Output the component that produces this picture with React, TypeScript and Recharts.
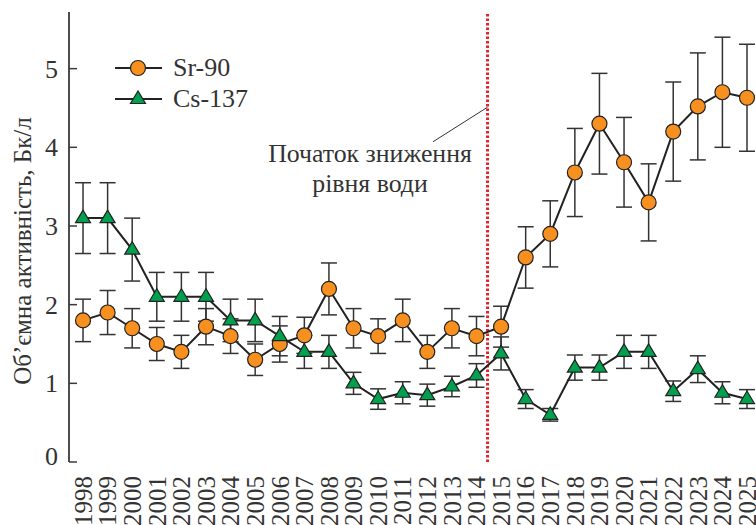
import React from 'react';
import {
  LineChart,
  Line,
  XAxis,
  YAxis,
  ErrorBar,
  ReferenceLine,
  ReferenceDot,
  Legend,
} from 'recharts';

const years = [
  1998, 1999, 2000, 2001, 2002, 2003, 2004, 2005, 2006, 2007, 2008, 2009, 2010, 2011,
  2012, 2013, 2014, 2015, 2016, 2017, 2018, 2019, 2020, 2021, 2022, 2023, 2024, 2025,
];
const sr90 = [
  1.8, 1.9, 1.7, 1.5, 1.4, 1.72, 1.6, 1.3, 1.5, 1.61, 2.2, 1.7, 1.6, 1.8, 1.4, 1.7, 1.6,
  1.72, 2.6, 2.9, 3.68, 4.3, 3.81, 3.3, 4.2, 4.52, 4.7, 4.63,
];
const sr90Err = [
  0.27, 0.28, 0.25, 0.21, 0.21, 0.23, 0.22, 0.2, 0.23, 0.23, 0.33, 0.25, 0.22, 0.27, 0.21,
  0.25, 0.25, 0.26, 0.39, 0.42, 0.56, 0.64, 0.57, 0.49, 0.63, 0.68, 0.7, 0.68,
];
const cs137 = [
  3.1, 3.1, 2.7, 2.1, 2.1, 2.1, 1.8, 1.8, 1.6, 1.4, 1.4, 1.0, 0.8, 0.88, 0.85, 0.96, 1.1,
  1.38, 0.8, 0.6, 1.2, 1.2, 1.4, 1.4, 0.9, 1.18, 0.88, 0.8,
];
const cs137Err = [
  0.45, 0.45, 0.4, 0.31, 0.31, 0.31, 0.27, 0.27, 0.25, 0.21, 0.21, 0.14, 0.13, 0.14, 0.14,
  0.13, 0.15, 0.21, 0.12, 0.08, 0.16, 0.16, 0.21, 0.21, 0.13, 0.17, 0.14, 0.12,
];
const yTicks = [0, 1, 2, 3, 4, 5];
const waterDropYear = 2014.45;
const annotationLines = ['Початок зниження', 'рівня води'];
const yLabel = 'Об’ємна активність, Бк/л';
const seriesNames = ['Sr-90', 'Cs-137'];

const data = years.map((year, i) => ({
  year,
  sr: sr90[i],
  srErr: sr90Err[i],
  cs: cs137[i],
  csErr: cs137Err[i],
}));
const boundaryTicks = years.slice(0, -1).map((y) => y + 0.45);

const FONT = "'Liberation Serif', serif";
const TEXT = '#333';
const AXIS = '#3a3a3a';
const ORANGE = '#F7901E';
const GREEN = '#00A04F';
const LINE = '#222';

const Triangle = (props: any) => {
  const { cx, cy, key } = props;
  if (cx == null || cy == null) return null;
  const pts = `${cx},${cy - 8} ${cx - 7.5},${cy + 4.5} ${cx + 7.5},${cy + 4.5}`;
  return <polygon key={key} points={pts} fill={GREEN} stroke="#222" strokeWidth={1.2} />;
};

const YTick = (props: any) => {
  const { x, y, payload } = props;
  const shift = payload.value === 0 ? -6 : 0;
  return (
    <text x={x} y={y + shift} dy="0.35em" textAnchor="end" fill={TEXT} style={{ fontFamily: FONT, fontSize: 26 }}>
      {payload.value}
    </text>
  );
};

const XTick = (props: any) => {
  const { x, y, payload } = props;
  return (
    <text
      x={x}
      y={y}
      dy="0.35em"
      textAnchor="end"
      transform={`rotate(-90, ${x}, ${y})`}
      fill={TEXT}
      style={{ fontFamily: FONT, fontSize: 25 }}
    >
      {payload.value}
    </text>
  );
};

const LegendContent = () => (
  <div style={{ fontFamily: FONT, fontSize: 26, color: TEXT }}>
    {seriesNames.map((name, i) => (
      <div key={name} style={{ display: 'flex', alignItems: 'center', height: 31 }}>
        <svg width={50} height={20} style={{ display: 'block' }}>
          <line x1={1} y1={10} x2={48} y2={10} stroke={LINE} strokeWidth={2} />
          {i === 0 ? (
            <circle cx={24} cy={10} r={7.5} fill={ORANGE} stroke="#222" strokeWidth={1.2} />
          ) : (
            <polygon points="24,2 16.5,14.5 31.5,14.5" fill={GREEN} stroke="#222" strokeWidth={1.2} />
          )}
        </svg>
        <span style={{ marginLeft: 9, lineHeight: '31px' }}>{name}</span>
      </div>
    ))}
  </div>
);

const AnnotationLabel = (props: any) => {
  const vb = props.viewBox || {};
  const cx = (vb.x ?? 0) + (vb.width ?? 0) / 2;
  const cy = (vb.y ?? 0) + (vb.height ?? 0) / 2;
  return (
    <text x={cx} y={cy} textAnchor="middle" fill={TEXT} style={{ fontFamily: FONT, fontSize: 25.8 }}>
      {annotationLines.map((t, i) => (
        <tspan key={t} x={cx} dy={i === 0 ? 0 : 30}>
          {t}
        </tspan>
      ))}
    </text>
  );
};

const YAxisLabel = (props: any) => {
  const vb = props.viewBox || {};
  const x = (vb.x ?? 0) + 22;
  const y = 251;
  return (
    <text
      x={x}
      y={y}
      dy="0.35em"
      textAnchor="middle"
      transform={`rotate(-90, ${x}, ${y})`}
      fill={TEXT}
      style={{ fontFamily: FONT, fontSize: 25 }}
    >
      {yLabel}
    </text>
  );
};

export default function App() {
  const xDomain: [number, number] = [1997.43, 2025.61];
  return (
    <div
      style={{
        position: 'fixed',
        left: 0,
        top: 0,
        width: 756,
        height: 525,
        overflow: 'hidden',
        background: '#fff',
      }}
    >
      <LineChart width={762} height={527} data={data} margin={{ top: 12, right: 0, bottom: 0, left: 0 }}>
        <XAxis
          xAxisId="ticks"
          dataKey="year"
          type="number"
          domain={xDomain}
          ticks={boundaryTicks}
          height={0}
          tick={false}
          tickSize={-7}
          tickLine={{ stroke: AXIS, strokeWidth: 1.5 }}
          axisLine={{ stroke: AXIS, strokeWidth: 1.8 }}
          interval={0}
        />
        <XAxis
          xAxisId="main"
          dataKey="year"
          type="number"
          domain={xDomain}
          ticks={years}
          height={65}
          tickLine={false}
          tickSize={0}
          tickMargin={14}
          axisLine={false}
          tick={<XTick />}
          interval={0}
        />
        <XAxis
          xAxisId="top"
          orientation="top"
          dataKey="year"
          type="number"
          domain={xDomain}
          height={0}
          tick={false}
          tickLine={false}
          axisLine={{ stroke: AXIS, strokeWidth: 1.8 }}
        />
        <YAxis
          width={69}
          domain={[0, 5.72]}
          ticks={yTicks}
          tickSize={-8}
          tickMargin={19}
          tickLine={{ stroke: AXIS, strokeWidth: 1.5 }}
          axisLine={{ stroke: AXIS, strokeWidth: 1.8 }}
          tick={<YTick />}
          interval={0}
          allowDataOverflow
          label={{ content: (p: any) => <YAxisLabel {...p} /> }}
        />
        <ReferenceLine
          xAxisId="main"
          x={waterDropYear}
          stroke="#E8202A"
          strokeWidth={3}
          strokeDasharray="2.5 2"
        />
        <ReferenceLine
          xAxisId="main"
          segment={[
            { x: 2012.23, y: 4.07 },
            { x: waterDropYear, y: 4.51 },
          ]}
          stroke="#333"
          strokeWidth={1}
          ifOverflow="visible"
        />
        <ReferenceDot
          xAxisId="main"
          x={2009.67}
          y={3.81}
          r={0}
          fill="none"
          stroke="none"
          ifOverflow="visible"
          label={{ content: (p: any) => <AnnotationLabel {...p} /> }}
        />
        <Legend
          layout="horizontal"
          verticalAlign="middle"
          align="center"
          content={<LegendContent />}
          wrapperStyle={{ left: 114, top: 52, width: 220 }}
        />
        <Line
          xAxisId="main"
          dataKey="sr"
          name="Sr-90"
          stroke={LINE}
          strokeWidth={2}
          isAnimationActive={false}
          dot={{ r: 7.5, fill: ORANGE, stroke: '#222', strokeWidth: 1.2 }}
          activeDot={false}
        >
          <ErrorBar dataKey="srErr" width={8} stroke="#333" strokeWidth={1.5} direction="y" />
        </Line>
        <Line
          xAxisId="main"
          dataKey="cs"
          name="Cs-137"
          stroke={LINE}
          strokeWidth={2}
          isAnimationActive={false}
          dot={<Triangle />}
          activeDot={false}
        >
          <ErrorBar dataKey="csErr" width={8} stroke="#333" strokeWidth={1.5} direction="y" />
        </Line>
      </LineChart>
    </div>
  );
}
